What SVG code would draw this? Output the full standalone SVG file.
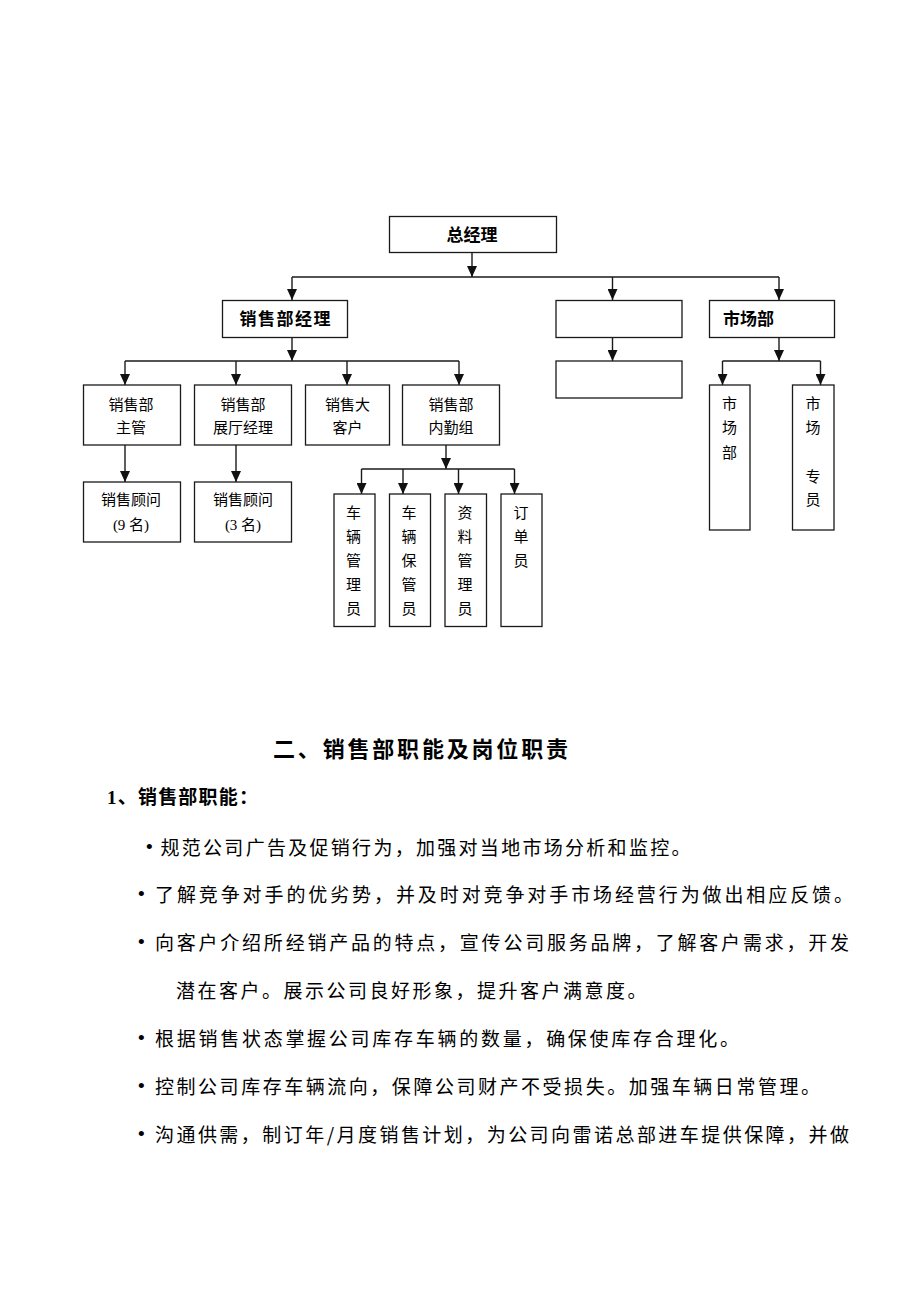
<svg xmlns="http://www.w3.org/2000/svg" width="920" height="1302" viewBox="0 0 920 1302">
<style>
.box{fill:#fff;stroke:#1a1a1a;stroke-width:1.3}
.ln{fill:none;stroke:#1a1a1a;stroke-width:1.4}
.b{font-family:"Liberation Sans","Noto Sans CJK SC",sans-serif;font-weight:bold;font-size:17px;fill:#000}
.t{font-family:"Liberation Serif","Noto Sans CJK SC",serif;font-size:15px;fill:#000}
.p{font-family:"Noto Sans CJK SC",sans-serif;font-size:19px;fill:#000}
.d{font-family:"Liberation Sans",sans-serif;font-size:19px;fill:#000}
.h{font-family:"Liberation Serif","Noto Sans CJK SC",serif;font-weight:bold;fill:#000}
</style>
<defs>
<marker id="ar" viewBox="0 0 11 10" refX="11" refY="5" markerWidth="11" markerHeight="10" markerUnits="userSpaceOnUse" orient="auto">
<path d="M0,0 L11,5 L0,10 z" fill="#111"/>
</marker>
</defs>
<rect width="920" height="1302" fill="#fff"/>
<g id="connectors">
<path class="ln" d="M472,253 V277" marker-end="url(#ar)"/>
<path class="ln" d="M292,277 H779"/>
<path class="ln" d="M292,277 V300" marker-end="url(#ar)"/>
<path class="ln" d="M612.5,277 V300" marker-end="url(#ar)"/>
<path class="ln" d="M779,277 V300" marker-end="url(#ar)"/>
<path class="ln" d="M292,337.5 V361" marker-end="url(#ar)"/>
<path class="ln" d="M125,361 H459"/>
<path class="ln" d="M125,361 V385" marker-end="url(#ar)"/>
<path class="ln" d="M236,361 V385" marker-end="url(#ar)"/>
<path class="ln" d="M347,361 V385" marker-end="url(#ar)"/>
<path class="ln" d="M459,361 V385" marker-end="url(#ar)"/>
<path class="ln" d="M125,445 V482" marker-end="url(#ar)"/>
<path class="ln" d="M236,445 V482" marker-end="url(#ar)"/>
<path class="ln" d="M446,445 V469" marker-end="url(#ar)"/>
<path class="ln" d="M361.5,469 H514.5"/>
<path class="ln" d="M361.5,469 V494" marker-end="url(#ar)"/>
<path class="ln" d="M403,469 V494" marker-end="url(#ar)"/>
<path class="ln" d="M458.5,469 V494" marker-end="url(#ar)"/>
<path class="ln" d="M514.5,469 V494" marker-end="url(#ar)"/>
<path class="ln" d="M612.5,337.5 V361" marker-end="url(#ar)"/>
<path class="ln" d="M779,337.5 V361" marker-end="url(#ar)"/>
<path class="ln" d="M722.5,361 H820.5"/>
<path class="ln" d="M722.5,361 V385" marker-end="url(#ar)"/>
<path class="ln" d="M820.5,361 V385" marker-end="url(#ar)"/>
</g>
<g id="gm"><rect class="box" x="389.5" y="216.5" width="167" height="36"/><text class="b" x="472" y="235" text-anchor="middle" dominant-baseline="central">总经理</text></g>
<g id="salesmgr"><rect class="box" x="222.5" y="300.5" width="125" height="37"/><text class="b" x="285" y="319" text-anchor="middle" dominant-baseline="central" textLength="91" lengthAdjust="spacing">销售部经理</text></g>
<g id="mid1"><rect class="box" x="556" y="300.5" width="126" height="37"/></g>
<g id="mid2"><rect class="box" x="556" y="361" width="126" height="37"/></g>
<g id="market"><rect class="box" x="709.5" y="300.5" width="125" height="37"/><text class="b" x="723" y="319" dominant-baseline="central">市场部</text></g>
<g id="supervisor"><rect class="box" x="83.5" y="385" width="97" height="60"/><text class="t" x="131" y="405" text-anchor="middle" dominant-baseline="central">销售部</text><text class="t" x="131" y="428" text-anchor="middle" dominant-baseline="central">主管</text></g>
<g id="showroom"><rect class="box" x="194.5" y="385" width="97" height="60"/><text class="t" x="243" y="405" text-anchor="middle" dominant-baseline="central">销售部</text><text class="t" x="243" y="428" text-anchor="middle" dominant-baseline="central">展厅经理</text></g>
<g id="bigclient"><rect class="box" x="305.5" y="385" width="84" height="60"/><text class="t" x="347.5" y="405" text-anchor="middle" dominant-baseline="central">销售大</text><text class="t" x="347.5" y="428" text-anchor="middle" dominant-baseline="central">客户</text></g>
<g id="office"><rect class="box" x="402.5" y="385" width="97" height="60"/><text class="t" x="451" y="405" text-anchor="middle" dominant-baseline="central">销售部</text><text class="t" x="451" y="428" text-anchor="middle" dominant-baseline="central">内勤组</text></g>
<g id="consult9"><rect class="box" x="83.5" y="482" width="97" height="60"/><text class="t" x="131" y="500" text-anchor="middle" dominant-baseline="central">销售顾问</text><text class="t" x="131" y="525" text-anchor="middle" dominant-baseline="central">(9 名)</text></g>
<g id="consult3"><rect class="box" x="194.5" y="482" width="97" height="60"/><text class="t" x="243" y="500" text-anchor="middle" dominant-baseline="central">销售顾问</text><text class="t" x="243" y="525" text-anchor="middle" dominant-baseline="central">(3 名)</text></g>
<g id="v1" class="t" text-anchor="middle"><rect class="box" x="334" y="494" width="41" height="132.5"/><text x="353.5" y="513" dominant-baseline="central">车</text><text x="353.5" y="537" dominant-baseline="central">辆</text><text x="353.5" y="561" dominant-baseline="central">管</text><text x="353.5" y="585" dominant-baseline="central">理</text><text x="353.5" y="609" dominant-baseline="central">员</text></g>
<g id="v2" class="t" text-anchor="middle"><rect class="box" x="389.5" y="494" width="41" height="132.5"/><text x="409" y="513" dominant-baseline="central">车</text><text x="409" y="537" dominant-baseline="central">辆</text><text x="409" y="561" dominant-baseline="central">保</text><text x="409" y="585" dominant-baseline="central">管</text><text x="409" y="609" dominant-baseline="central">员</text></g>
<g id="v3" class="t" text-anchor="middle"><rect class="box" x="445" y="494" width="41.5" height="132.5"/><text x="465" y="513" dominant-baseline="central">资</text><text x="465" y="537" dominant-baseline="central">料</text><text x="465" y="561" dominant-baseline="central">管</text><text x="465" y="585" dominant-baseline="central">理</text><text x="465" y="609" dominant-baseline="central">员</text></g>
<g id="v4" class="t" text-anchor="middle"><rect class="box" x="501" y="494" width="41" height="132.5"/><text x="521" y="513" dominant-baseline="central">订</text><text x="521" y="537" dominant-baseline="central">单</text><text x="521" y="561" dominant-baseline="central">员</text></g>
<g id="m1" class="t" text-anchor="middle"><rect class="box" x="709.5" y="385" width="40.5" height="145"/><text x="729.5" y="404" dominant-baseline="central">市</text><text x="729.5" y="428" dominant-baseline="central">场</text><text x="729.5" y="453" dominant-baseline="central">部</text></g>
<g id="m2" class="t" text-anchor="middle"><rect class="box" x="792.5" y="385" width="41.5" height="145"/><text x="813" y="404" dominant-baseline="central">市</text><text x="813" y="428" dominant-baseline="central">场</text><text x="813" y="477" dominant-baseline="central">专</text><text x="813" y="500" dominant-baseline="central">员</text></g>
<g id="body">
<text class="h" x="273" y="749" font-size="22" dominant-baseline="central" textLength="295" lengthAdjust="spacing">二、销售部职能及岗位职责</text>
<text class="h" x="107" y="797" font-size="19" dominant-baseline="central" textLength="151" lengthAdjust="spacing">1、销售部职能：</text>
<text class="d" x="146" y="846" dominant-baseline="central">•</text>
<text class="p" x="160.5" y="846" dominant-baseline="central" textLength="530" lengthAdjust="spacing">规范公司广告及促销行为，加强对当地市场分析和监控。</text>
<text class="d" x="138" y="893" dominant-baseline="central">•</text>
<text class="p" x="155" y="893" dominant-baseline="central" textLength="698" lengthAdjust="spacing">了解竞争对手的优劣势，并及时对竞争对手市场经营行为做出相应反馈。</text>
<text class="d" x="138" y="941" dominant-baseline="central">•</text>
<text class="p" x="155" y="941" dominant-baseline="central" textLength="694" lengthAdjust="spacing">向客户介绍所经销产品的特点，宣传公司服务品牌，了解客户需求，开发</text>
<text class="p" x="176" y="989" dominant-baseline="central" letter-spacing="2.5">潜在客户。展示公司良好形象，提升客户满意度。</text>
<text class="d" x="138" y="1037" dominant-baseline="central">•</text>
<text class="p" x="155" y="1037" dominant-baseline="central" textLength="584" lengthAdjust="spacing">根据销售状态掌握公司库存车辆的数量，确保使库存合理化。</text>
<text class="d" x="138" y="1085" dominant-baseline="central">•</text>
<text class="p" x="155" y="1085" dominant-baseline="central" textLength="665" lengthAdjust="spacing">控制公司库存车辆流向，保障公司财产不受损失。加强车辆日常管理。</text>
<text class="d" x="138" y="1133" dominant-baseline="central">•</text>
<text class="p" x="155" y="1133" dominant-baseline="central" textLength="694" lengthAdjust="spacing">沟通供需，制订年/月度销售计划，为公司向雷诺总部进车提供保障，并做</text>
</g>
</svg>
